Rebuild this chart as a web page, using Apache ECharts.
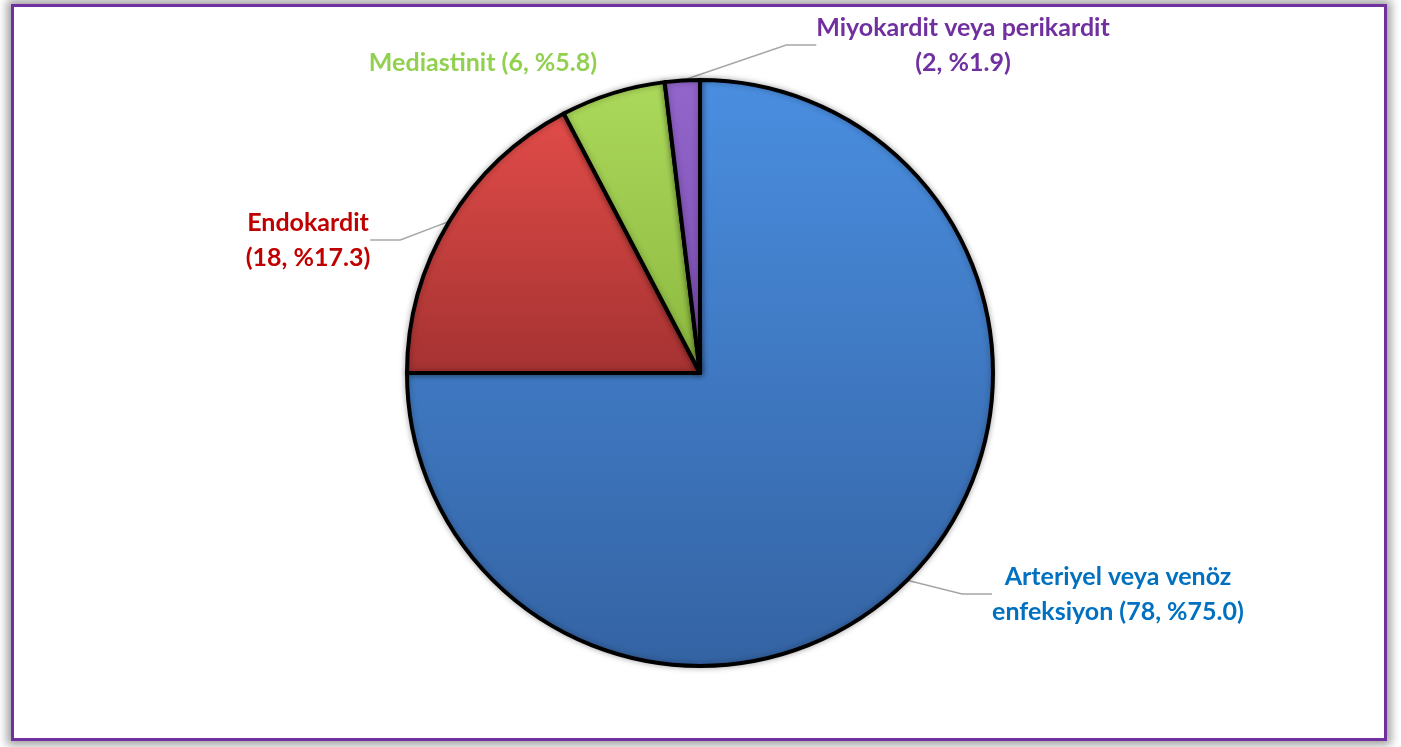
<!DOCTYPE html>
<html>
<head>
<meta charset="utf-8">
<script src="https://cdn.jsdelivr.net/npm/echarts@6/dist/echarts.min.js"></script>
<style>
    body { margin: 0; background: #fff; }
    #frame {
        position: absolute; left: 11px; top: 4px; width: 1370px; height: 731px;
        border: 3px solid #7030a0; background: #fff;
        box-shadow: 0 0 9px 4px rgba(0, 0, 0, 0.38);
    }
    #chart { position: absolute; left: 0; top: 0; width: 1401px; height: 747px; }
</style>
</head>
<body>
<div id="frame"></div>
<div id="chart"></div>
<script>
// kategoriler ve değerler
var categories = ['Arteriyel veya venöz\nenfeksiyon', 'Endokardit', 'Mediastinit', 'Miyokardit veya perikardit'];
var values = [78, 18, 6, 2];
var separators = [' ', '\n', ' ', '\n'];

var sliceColors = [['#4a8ee0', '#3463a3'], ['#e24c49', '#a43231'], ['#abd95b', '#8cb83f'], ['#9366cc', '#7a4cb0']];
var labelColors = ['#0070c0', '#c00000', '#92d050', '#7030a0'];
var showLines = [true, true, false, true];
// etiket konumları (piksel)
var labelPos = [[1118, 594, 'center'], [308, 240, 'center'], [483, 63, 'center'], [963, 45, 'center']];

window.onload = function() {
    var chart = echarts.init(document.getElementById('chart'));
    var total = values.reduce(function(a, b) { return a + b; }, 0);

    var data = [];
    for (var i = 0; i < values.length; i++) {
        data.push({
            name: categories[i],
            value: values[i],
            itemStyle: {
                color: new echarts.graphic.LinearGradient(0, 0, 0, 1, [
                    { offset: 0, color: sliceColors[i][0] },
                    { offset: 1, color: sliceColors[i][1] }
                ])
            },
            label: { color: labelColors[i] },
            labelLine: { show: showLines[i] }
        });
    }

    chart.setOption({
        animation: false,
        series: [{
            type: 'pie',
            center: [700, 373],
            radius: 293,
            startAngle: 90,
            clockwise: true,
            data: data,
            itemStyle: {
                borderColor: '#000',
                borderWidth: 4,
                shadowBlur: 6,
                shadowColor: 'rgba(0,0,0,0.3)'
            },
            label: {
                show: true,
                fontFamily: 'Lato',
                fontWeight: 'bold',
                fontSize: 25,
                lineHeight: 35,
                align: 'center',
                formatter: function(p) {
                    var pct = (p.value / total * 100).toFixed(1);
                    return p.name + separators[p.dataIndex] + '(' + p.value + ', %' + pct + ')';
                }
            },
            labelLine: {
                show: true,
                lineStyle: { color: '#a6a6a6', width: 1.5 }
            },
            labelLayout: function(params) {
                var lp = labelPos[params.dataIndex];
                return { x: lp[0], y: lp[1], align: lp[2], verticalAlign: 'middle' };
            }
        }]
    });
};
</script>
</body>
</html>
